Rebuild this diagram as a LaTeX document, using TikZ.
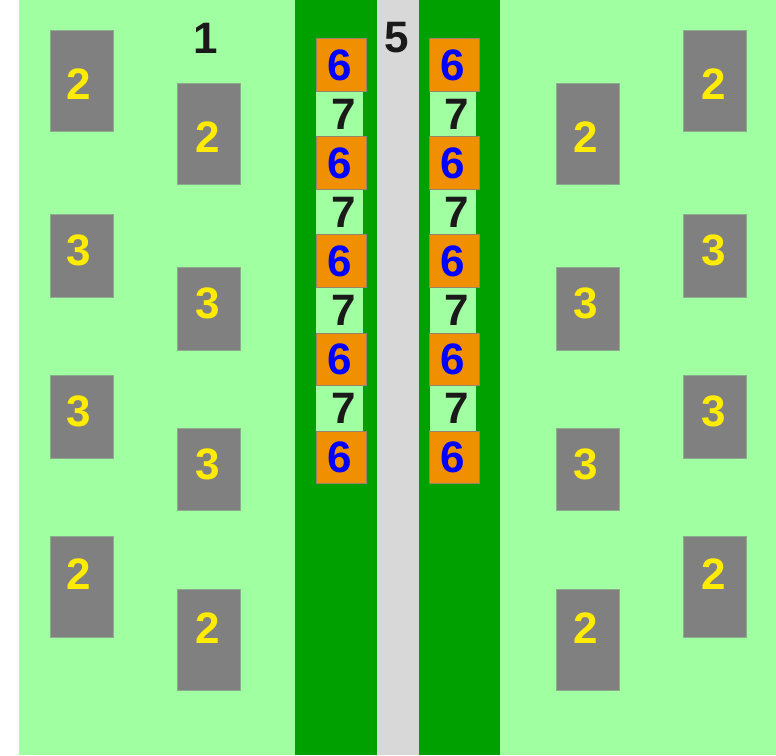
\documentclass[tikz,border=0pt]{standalone}
\usepackage{fontspec}
\setmainfont{Liberation Sans}
\usetikzlibrary{positioning}

\definecolor{grass}{RGB}{160,255,160}
\definecolor{hedge}{RGB}{0,160,0}
\definecolor{lane}{RGB}{216,216,216}
\definecolor{slabgray}{RGB}{128,128,128}
\definecolor{slabedge}{RGB}{140,170,140}
\definecolor{tagyellow}{RGB}{255,236,0}
\definecolor{bayorange}{RGB}{240,144,0}
\definecolor{bayedge}{RGB}{150,130,110}
\definecolor{inkblack}{RGB}{26,26,26}

\begin{document}
\begin{tikzpicture}[
    x=1pt, y=-1pt,
    digits/.style={font=\fontsize{44}{44}\selectfont\bfseries, inner sep=0pt},
    slab/.style={rectangle, draw=slabedge, line width=0.6pt, fill=slabgray,
                 minimum width=63pt, minimum height=#1, inner sep=0pt,
                 anchor=north west},
    tag/.style={digits, text=tagyellow},
    bay/.style={rectangle, draw=bayedge, line width=0.6pt, fill=bayorange,
                minimum width=50pt, minimum height=52.6pt, inner sep=0pt,
                anchor=north west},
    gap/.style={rectangle, fill=grass, minimum width=#1, minimum height=46pt,
                inner sep=0pt, anchor=north west},
    baynum/.style={digits, text=blue},
    gapnum/.style={digits, text=inkblack},
    areamark/.style={digits, text=inkblack},
]
\useasboundingbox (0,0) rectangle (776,755);

%% Ground, hedges and lane
\fill[white] (0,0) rectangle (19,755);
\fill[grass] (19,0) rectangle (776,755);
\fill[hedge] (295.3,0) rectangle (376.7,755);
\fill[hedge] (419.3,0) rectangle (500,755);
\fill[lane]  (376.7,0) rectangle (419.3,755);

%% Slabs on both sides
\foreach \x/\top/\h/\tx/\ty/\d [count=\i] in {
    50/30/100.5/79/84.5/2,    50/214/82.7/79/250/3,     50/375/82.5/79/411/3,     50/536/100.5/79/574.5/2,
    177/83/100.5/207.5/137.5/2, 177/267/82.5/207.5/303/3, 177/428/82/207.5/464/3,   177/589/100.5/207.5/628/2,
    556/83/100.5/586/137.5/2, 556/267/82.5/586/303/3,   556/428/82/586/464/3,     556/589/100.5/586/628/2,
    683/30/100.5/714/84.5/2,  683/214/82.7/714/250/3,   683/375/82.5/714/411/3,   683/536/100.5/714/574.5/2}
{
    \node[slab=\h pt] (slab\i) at (\x,\top) {};
    \node[tag] (tag\i) at (\tx,\ty) {\d};
}

%% Gaps between bays
\foreach \k in {0,...,3}
{
    \node[gap=47pt]   (gapL\k) at (316,90.6+98.2*\k) {};
    \node[gap=46.4pt] (gapR\k) at (429.3,90.6+98.2*\k) {};
    \node[gapnum] (gapnumL\k) at (344,114+98.2*\k) {7};
    \node[gapnum] (gapnumR\k) at (457,114+98.2*\k) {7};
}

%% Bays along the lane
\foreach \k in {0,...,4}
{
    \node[bay] (bayL\k) at (316,38+98.2*\k) {};
    \node[bay] (bayR\k) at (429.3,38+98.2*\k) {};
    \node[baynum] (baynumL\k) at (339.7,65+98.2*\k) {6};
    \node[baynum] (baynumR\k) at (452.8,65+98.2*\k) {6};
}

%% Area marks
\node[areamark] (area) at (205.5,38) {1};
\node[areamark] (road) at (396.5,38) {5};
\end{tikzpicture}
\end{document}
